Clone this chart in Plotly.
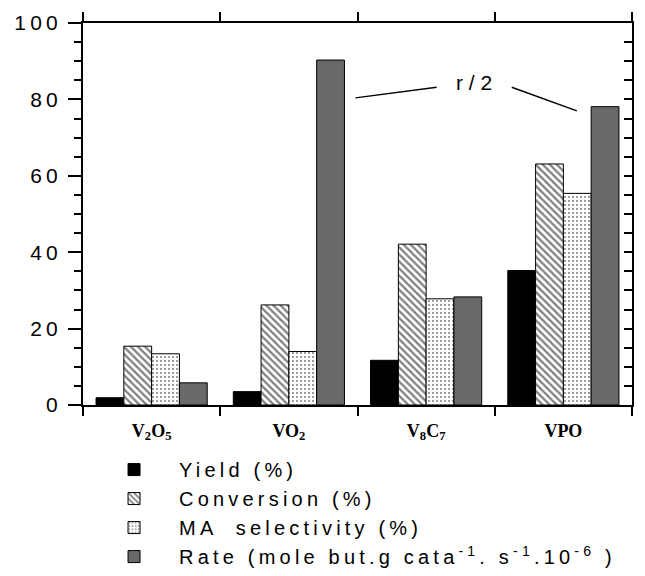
import plotly.graph_objects as go

categories = ["V2O5", "VO2", "V8C7", "VPO"]
cat_labels = ["<b>V<sub>2</sub>O<sub>5</sub></b>", "<b>VO<sub>2</sub></b>",
              "<b>V<sub>8</sub>C<sub>7</sub></b>", "<b>VPO</b>"]
yield_pct = [1.9, 3.5, 11.7, 35.2]
conversion = [15.4, 26.2, 42.1, 63.1]
selectivity = [13.4, 14.0, 27.8, 55.4]
rate_half = [5.8, 90.3, 28.3, 78.1]
y_ticks = [0, 20, 40, 60, 80, 100]
y_ticktext = ["\u2009".join(str(v)) for v in y_ticks]

series_names = ["Yield (%)", "Conversion (%)", "MA  selectivity (%)",
                "Rate (mole but.g cata<sup>-1</sup>. s<sup>-1</sup>.10<sup>-6</sup> )"]

fig = go.Figure()
line = dict(color="black", width=1)
fig.add_bar(x=categories, y=yield_pct, name=series_names[0],
            marker=dict(color="black", line=line))
fig.add_bar(x=categories, y=conversion, name=series_names[1],
            marker=dict(color="white", line=line,
                        pattern=dict(shape="\\", fgcolor="black", bgcolor="white",
                                     size=5, solidity=0.45)))
fig.add_bar(x=categories, y=selectivity, name=series_names[2],
            marker=dict(color="white", line=line,
                        pattern=dict(shape=".", fgcolor="black", bgcolor="white",
                                     size=4, solidity=0.2)))
fig.add_bar(x=categories, y=rate_half, name=series_names[3],
            marker=dict(color="#696969", line=line))

# right-side inside ticks
fig.add_scatter(x=categories, y=[None]*4, yaxis="y2", showlegend=False,
                hoverinfo="skip", mode="markers")

# r/2 annotation with leader lines
fig.add_annotation(x=2.35, y=84.5, text="r / 2", showarrow=False,
                   font=dict(family="Liberation Sans, Arial", size=21, color="black"))
fig.add_shape(type="line", x0=1.485, y0=80.4, x1=2.077, y1=83.2,
              line=dict(color="black", width=1.5))
fig.add_shape(type="line", x0=2.624, y0=83.2, x1=3.098, y1=77.0,
              line=dict(color="black", width=1.5))

fig.update_layout(
    width=645, height=576,
    margin=dict(l=83, r=13, t=23, b=171, autoexpand=False),
    paper_bgcolor="white", plot_bgcolor="white",
    barmode="group", bargap=0.19, bargroupgap=0,
    font=dict(family="Liberation Sans, Arial", color="black"),
    showlegend=True,
    legend=dict(x=0.011, y=-0.118, xanchor="left", yanchor="top",
                font=dict(size=20, family="Liberation Sans, Arial"),
                bgcolor="rgba(0,0,0,0)", tracegroupgap=0, itemwidth=80),
    xaxis=dict(tickmode="array", tickvals=categories, ticktext=cat_labels,
               tickson="boundaries", ticks="outside", ticklen=9, tickwidth=1.5,
               tickcolor="black", showline=True, linecolor="black", linewidth=2,
               mirror="ticks", showgrid=False, automargin=False, ticklabelstandoff=8,
               tickfont=dict(family="Liberation Serif, Times New Roman", size=18)),
    yaxis=dict(range=[0, 100], tickmode="array", tickvals=y_ticks, ticktext=y_ticktext,
               ticks="outside", ticklen=13, tickwidth=1.5, tickcolor="black",
               minor=dict(dtick=5, ticks="outside", ticklen=7, tickwidth=1.5,
                          tickcolor="black", showgrid=False),
               showline=True, linecolor="black", linewidth=2, mirror=True,
               showgrid=False, zeroline=False, ticklabelstandoff=6, automargin=False,
               tickfont=dict(family="Liberation Sans, Arial", size=21)),
    yaxis2=dict(range=[0, 100], overlaying="y", side="right", anchor="x",
                tickmode="linear", tick0=0, dtick=5, ticks="inside", ticklen=8,
                tickwidth=1.5, tickcolor="black", showticklabels=False,
                showgrid=False, zeroline=False, showline=False, automargin=False),
)

# widen legend lettering as in the reference typesetting (and let it overflow the box)
post = ("document.querySelectorAll('.legendtext').forEach(function(t){"
        "t.style.letterSpacing='4.2px';});"
        "document.querySelectorAll('.legend, .legend *').forEach(function(e){"
        "if(e.hasAttribute('clip-path')){e.removeAttribute('clip-path');}});")
fig.write_html("out.html", post_script=post)
